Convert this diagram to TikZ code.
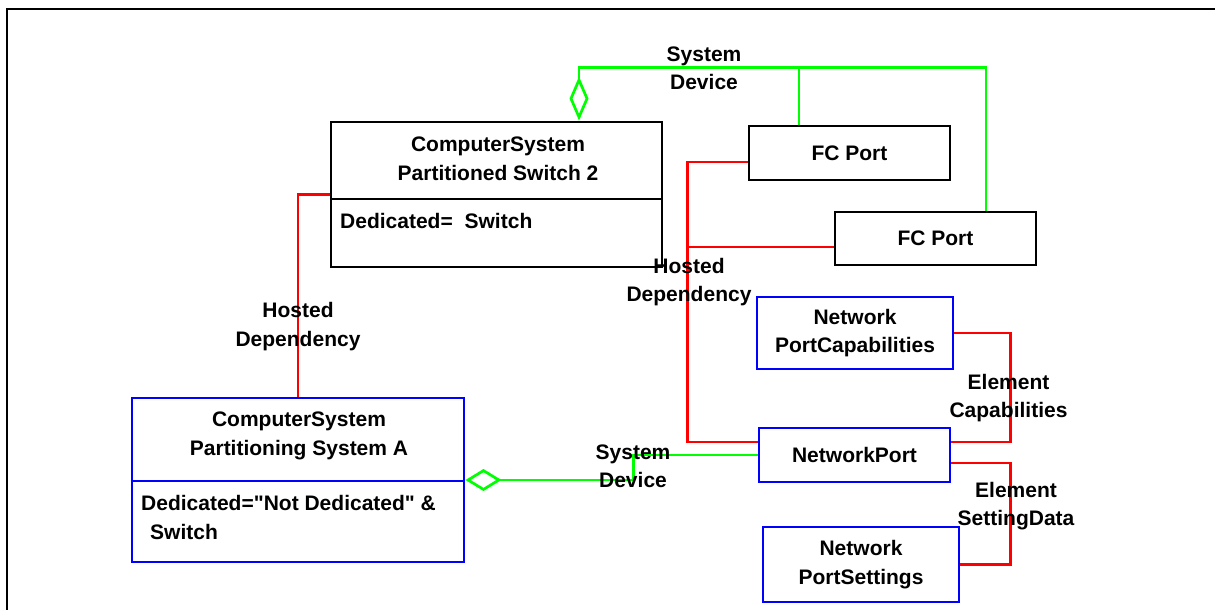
\documentclass[tikz,border=0pt]{standalone}
\usepackage{fontspec}
\setmainfont{Liberation Sans}
\newfontfamily\plainq{Liberation Sans}
\usetikzlibrary{arrows.meta}
\definecolor{lgreen}{RGB}{0,255,0}
\definecolor{lred}{RGB}{255,0,0}
\definecolor{lblue}{RGB}{0,0,255}
\begin{document}
\begin{tikzpicture}[x=1pt,y=-1pt,
  every node/.style={font=\fontsize{21}{28.5}\selectfont\bfseries, inner sep=0pt, align=center},
  blackbox/.style={draw=black, line width=2.9pt, rectangle},
  bluebox/.style={draw=lblue, line width=2.9pt, rectangle},
  divider/.style={line width=2.9pt},
  redline/.style={draw=lred, line width=2.7pt},
  greenline/.style={draw=lgreen, line width=2.7pt},
  vdiamond/.style={{Diamond[open, length=44pt, width=19pt]}-},
  hdiamond/.style={{Diamond[open, length=36pt, width=22pt]}-},
  lbl/.style={}]
\useasboundingbox (0,0) rectangle (1215,610);
\fill[white] (0,0) rectangle (1215,610);
% frame
\draw[line width=2.6pt] (7,610) -- (7,9) -- (1215,9);

% boxes
\node[blackbox, minimum width=331pt, minimum height=145pt] (cs2) at (496.5,194.5) {};
\draw[divider] (cs2.west |- 0,199) -- (cs2.east |- 0,199);
\node (cs2t) at (498,159) {ComputerSystem\\Partitioned Switch 2};
\node[anchor=west] (cs2a) at (340,221) {Dedicated=\hspace{6pt} Switch};

\node[bluebox, minimum width=332pt, minimum height=164pt] (csA) at (298,480) {};
\draw[divider, draw=lblue] (csA.west |- 0,481) -- (csA.east |- 0,481);
\node (csAt) at (299,436) {ComputerSystem\\Partitioning System A};
\node[anchor=west, align=left] (csAa) at (141,517.5) {Dedicated={\plainq"}Not Dedicated{\plainq"} \&\\\hspace{9pt}Switch};

\node[blackbox, minimum width=201pt, minimum height=54pt] (fc1) at (849.5,153) {FC Port};
\node[blackbox, minimum width=201pt, minimum height=53pt] (fc2) at (935.5,238.5) {FC Port};
\node[bluebox, minimum width=196pt, minimum height=72pt] (npc) at (855,333) {Network\\PortCapabilities};
\node[bluebox, minimum width=191pt, minimum height=54pt] (np) at (854.5,455) {NetworkPort};
\node[bluebox, minimum width=196pt, minimum height=75pt] (nps) at (861,564.5) {Network\\PortSettings};

% green connectors (SystemDevice)
\draw[greenline, vdiamond] ([xshift=82.5pt]cs2.north) -- ++(0,-53) -| ([xshift=50.5pt]fc2.north);
\draw[greenline] ([xshift=-50.5pt]fc1.north) -- ++(0,-57);
\draw[greenline, hdiamond] (csA.east) -- ++(168,0) |- (np.west);

% red connectors
\draw[redline] (cs2.west) -| (csA.north);
\draw[redline] ([yshift=-9pt]fc1.west) -- ++(-60,0) |- ([yshift=13pt]np.west);
\draw[redline] ([yshift=-8.5pt]fc2.west) -- ++(-146,0);
\draw[redline] (npc.east) -- ++(56,0) |- ([yshift=13pt]np.east);
\draw[redline] ([yshift=-8pt]np.east) -- ++(59,0) |- (nps.east);

% labels
\node[lbl] (l1) at (704,68.5) {System\\Device};
\node[lbl] (l2) at (298,326.5) {Hosted\\Dependency};
\node[lbl] (l3) at (689,282) {Hosted\\Dependency};
\node[lbl] (l4) at (633,466.5) {System\\Device};
\node[lbl] (l5) at (1008.5,398) {Element\\Capabilities};
\node[lbl] (l6) at (1016,506) {Element\\SettingData};
\end{tikzpicture}
\end{document}
